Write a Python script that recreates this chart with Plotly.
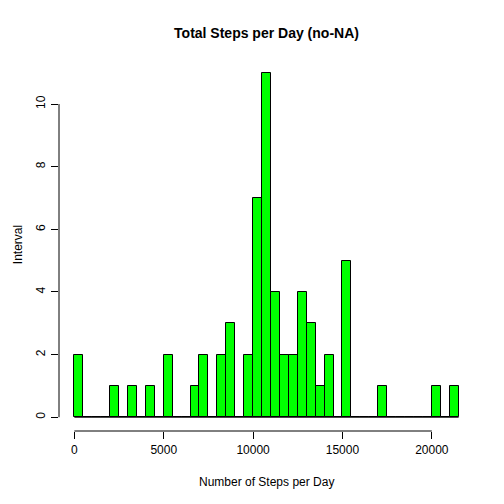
import plotly.graph_objects as go

# histogram of daily step totals (bins of 500 steps)
bin_width = 500
bin_starts = list(range(0, 21500, bin_width))
counts = [2, 0, 0, 0, 1, 0, 1, 0, 1, 0,
          2, 0, 0, 1, 2, 0, 2, 3, 0, 2,
          7, 11, 4, 2, 2, 4, 3, 1, 2, 0,
          5, 0, 0, 0, 1, 0, 0, 0, 0, 0,
          1, 0, 1]
x_ticks = [0, 5000, 10000, 15000, 20000]
y_ticks = [0, 2, 4, 6, 8, 10]

font = "Liberation Sans, Arial, sans-serif"

fig = go.Figure()

# baseline drawn by the empty bins
fig.add_trace(go.Scatter(x=[bin_starts[0], bin_starts[-1] + bin_width], y=[0, 0],
                         mode="lines", line=dict(color="black", width=1),
                         hoverinfo="skip", showlegend=False))

fig.add_trace(go.Bar(x=bin_starts, y=counts, width=bin_width, offset=0,
                     marker=dict(color="#00ff00", line=dict(color="black", width=1)),
                     showlegend=False))

# R style axis lines, only between first and last tick
fig.add_shape(type="line", xref="x", yref="paper", x0=x_ticks[0], x1=x_ticks[-1],
              y0=0, y1=0, line=dict(color="black", width=1))
fig.add_shape(type="line", xref="paper", yref="y", x0=0, x1=0,
              y0=y_ticks[0], y1=y_ticks[-1], line=dict(color="black", width=1))

# page body adds ~8px offset, margins are shifted to compensate
fig.update_layout(
    width=504, height=504,
    margin=dict(l=51, r=38, t=51, b=81),
    paper_bgcolor="white", plot_bgcolor="white",
    font=dict(family=font, size=12, color="black"),
    bargap=0,
    title=dict(text="<b>Total Steps per Day (no-NA)</b>", x=0.5, xref="paper",
               y=1 - 25 / 504, yref="container", yanchor="middle",
               font=dict(size=14, family=font)),
    xaxis=dict(range=[-860, 22360], showgrid=False, zeroline=False, showline=False,
               tickvals=x_ticks, ticktext=[str(v) for v in x_ticks],
               ticks="outside", ticklen=7, tickcolor="black",
               tickwidth=1, ticklabelstandoff=1),
    yaxis=dict(range=[-0.44, 11.44], showgrid=False, zeroline=False, showline=False,
               tickvals=y_ticks, ticks="outside", ticklen=7, tickcolor="black",
               tickwidth=1, tickangle=-90, ticklabelstandoff=1),
    annotations=[
        dict(text="Number of Steps per Day", xref="paper", yref="paper",
             x=0.5, y=-0.138, showarrow=False, yanchor="middle"),
        dict(text="Interval", xref="paper", yref="paper", x=-0.12, y=0.5,
             showarrow=False, textangle=-90, xanchor="left"),
    ],
)

fig.write_html("out.html")
